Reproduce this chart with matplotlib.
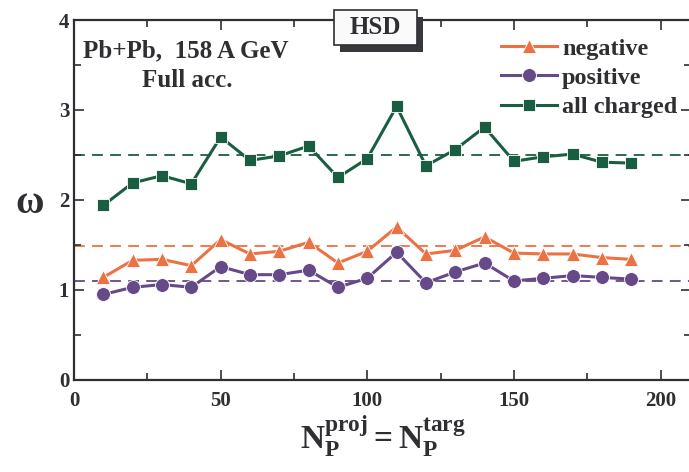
import matplotlib
matplotlib.use("Agg")
import matplotlib.pyplot as plt
from matplotlib.patches import Rectangle
from matplotlib.ticker import MultipleLocator

plt.rcParams['font.family'] = ['Liberation Serif', 'DejaVu Serif']
plt.rcParams['font.weight'] = 'bold'
plt.rcParams['mathtext.fontset'] = 'custom'
plt.rcParams['mathtext.rm'] = 'Liberation Serif:bold'
plt.rcParams['mathtext.it'] = 'Liberation Serif:bold'
plt.rcParams['mathtext.bf'] = 'Liberation Serif:bold'

# data
n_part = [10, 20, 30, 40, 50, 60, 70, 80, 90, 100,
          110, 120, 130, 140, 150, 160, 170, 180, 190]
omega_neg = [1.14, 1.33, 1.34, 1.27, 1.56, 1.40, 1.43, 1.53, 1.30, 1.43,
             1.70, 1.40, 1.44, 1.59, 1.41, 1.40, 1.40, 1.36, 1.34]
omega_pos = [0.95, 1.03, 1.06, 1.03, 1.26, 1.17, 1.17, 1.22, 1.03, 1.13,
             1.42, 1.08, 1.20, 1.30, 1.10, 1.13, 1.16, 1.14, 1.12]
omega_all = [1.94, 2.19, 2.27, 2.18, 2.70, 2.44, 2.49, 2.60, 2.25, 2.46,
             3.04, 2.38, 2.56, 2.81, 2.43, 2.48, 2.51, 2.42, 2.41]
ref_levels = {'negative': 1.49, 'positive': 1.10, 'all charged': 2.50}

c_neg = '#ED7243'
c_pos = '#654A87'
c_all = '#1A5E42'
txt = '#2f2f33'

fig = plt.figure(figsize=(6.89, 4.72), dpi=100)
ax = fig.add_axes([0.1074, 0.195, 0.8960, 0.7626])

for lvl, c in [(ref_levels['all charged'], c_all),
               (ref_levels['negative'], c_neg),
               (ref_levels['positive'], c_pos)]:
    ax.axhline(lvl, color=c, lw=1.3, dashes=(6, 4), zorder=1)

ax.plot(n_part, omega_neg, '-', color=c_neg, lw=2.2, marker='^', ms=10.5,
        mec='white', mew=0.6, label='negative', zorder=3)
ax.plot(n_part, omega_pos, '-', color=c_pos, lw=2.2, marker='o', ms=10,
        mec='white', mew=0.6, label='positive', zorder=3)
ax.plot(n_part, omega_all, '-', color=c_all, lw=2.2, marker='s', ms=8.5,
        mec='white', mew=0.6, label='all charged', zorder=3)

ax.set_xlim(0, 210.5)
ax.set_ylim(0, 4)
ax.xaxis.set_major_locator(MultipleLocator(50))
ax.xaxis.set_minor_locator(MultipleLocator(25))
ax.yaxis.set_major_locator(MultipleLocator(1))
ax.yaxis.set_minor_locator(MultipleLocator(0.5))
ax.tick_params(which='both', direction='in', top=True, right=True,
               color=txt, width=1.2, labelsize=15, labelcolor=txt)
ax.tick_params(which='major', length=7)
ax.tick_params(which='minor', length=5)
ax.tick_params(axis='x', pad=8)
for lab in ax.get_xticklabels() + ax.get_yticklabels():
    lab.set_fontweight('bold')
for s in ax.spines.values():
    s.set_color(txt)
    s.set_linewidth(1.6)

ax.set_xlabel(r'$\mathrm{N_P^{proj} = N_P^{targ}}$', fontsize=24,
              color=txt, labelpad=2)
ax.set_ylabel('ω', fontsize=28, fontweight='bold', color=txt, rotation=0,
              va='center', family=['Liberation Serif', 'DejaVu Serif'])
ax.yaxis.set_label_coords(-0.072, 0.49)

ax.text(0.014, 0.895, 'Pb+Pb,  158 A GeV', transform=ax.transAxes,
        fontsize=18, fontweight='bold', color=txt)
ax.text(0.110, 0.815, 'Full acc.', transform=ax.transAxes,
        fontsize=18, fontweight='bold', color=txt)

# HSD label box with drop shadow
fig.patches.append(Rectangle((340 / 689, 1 - 52 / 472), 83 / 689, 35 / 472,
                             transform=fig.transFigure, facecolor='#38383c',
                             edgecolor='none', zorder=5))
fig.patches.append(Rectangle((334 / 689, 1 - 45 / 472), 83 / 689, 35 / 472,
                             transform=fig.transFigure, facecolor='#fafafa',
                             edgecolor=txt, lw=1.2, zorder=6))
fig.text(375.5 / 689, 1 - 27.5 / 472, 'HSD', ha='center', va='center',
         fontsize=18, fontweight='bold', color=txt, zorder=7)

leg = ax.legend(loc='upper right', bbox_to_anchor=(0.993, 0.978),
                frameon=False, fontsize=17.5, handlelength=2.3,
                handletextpad=0.2, labelspacing=0.3, borderaxespad=0.0)
for t in leg.get_texts():
    t.set_color(txt)
    t.set_fontweight('bold')

fig.savefig('out.png', dpi=100)
